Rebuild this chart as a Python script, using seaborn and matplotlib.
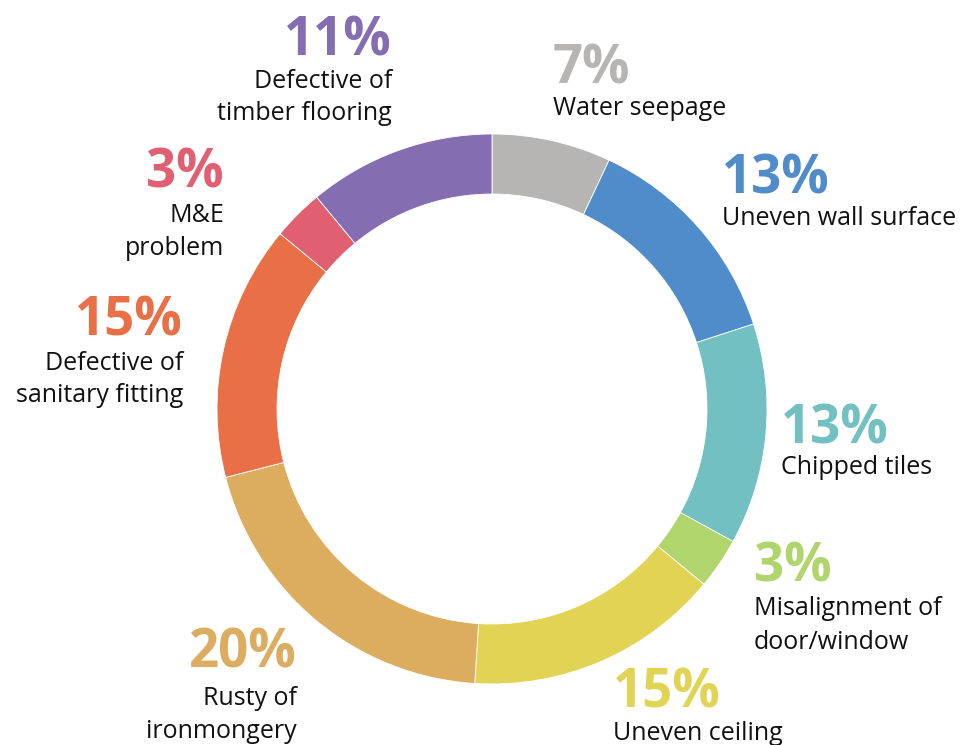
import matplotlib
matplotlib.use("Agg")
import matplotlib.pyplot as plt
import seaborn as sns

# defect categories, clockwise from the top of the ring
labels = [
    ["Water seepage"],
    ["Uneven wall surface"],
    ["Chipped tiles"],
    ["Misalignment of", "door/window"],
    ["Uneven ceiling"],
    ["Rusty of", "ironmongery"],
    ["Defective of", "sanitary fitting"],
    ["M&E", "problem"],
    ["Defective of", "timber flooring"],
]
values = [7, 13, 13, 3, 15, 20, 15, 3, 11]
hex_colours = ["#b6b5b3", "#508bca", "#72c0c2", "#b0d56c", "#e1d455",
               "#dcac5f", "#e86f46", "#e06072", "#846db0"]

# where each label block sits (pixel coords, y measured from the top)
label_x = [553, 722, 781, 754, 613, 297, 183, 224, 392]
label_ha = ["left", "left", "left", "left", "left", "right", "right", "right", "right"]
pct_base = [83, 193, 443, 582, 707, 667, 335, 187, 55]
line_base = [[115], [225], [474], [615, 649], [740], [705, 738], [370, 402], [222, 255], [88, 120]]

sns.set_style("white")
plt.rcParams["font.family"] = ["Open Sans", "DejaVu Sans"]
colours = sns.color_palette(hex_colours)

W, H = 972, 745
fig = plt.figure(figsize=(W / 100, H / 100), dpi=100)
ax = fig.add_axes([0, 0, 1, 1])

# donut ring drawn in pixel units
ax.pie(values, colors=colours, startangle=90, counterclock=False,
       radius=275, center=(492, H - 409),
       wedgeprops=dict(width=60, edgecolor="white", linewidth=0.6))

ax.set_xlim(0, W)
ax.set_ylim(0, H)
ax.set_aspect("auto")
ax.axis("off")

for i in range(len(values)):
    ax.text(label_x[i], H - pct_base[i], f"{values[i]}%", ha=label_ha[i], va="baseline",
            fontsize=38, fontweight="bold", color=colours[i])
    for line, yb in zip(labels[i], line_base[i]):
        ax.text(label_x[i], H - yb, line, ha=label_ha[i], va="baseline",
                fontsize=18, color="#111111")

plt.savefig("out.png", dpi=100)
